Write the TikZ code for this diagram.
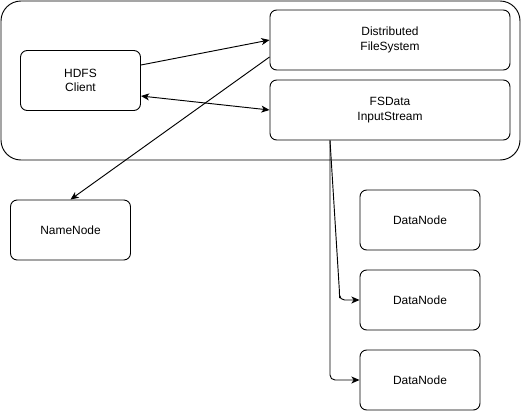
\documentclass[tikz,border=0pt]{standalone}
\usepackage{fontspec}
\setmainfont{Liberation Sans}
\usetikzlibrary{arrows.meta,calc}
\begin{document}
\begin{tikzpicture}[x=0.03cm,y=-0.03cm,
  box/.style={draw,line width=0.8pt,rounded corners=0.2cm,align=center,
    minimum width=3.6cm,minimum height=1.8cm,inner sep=0pt,
    font=\fontsize{10.2}{12.5}\selectfont},
  wide/.style={box,minimum width=7.2cm},
  tip/.tip={Stealth[length=7pt,width=6pt,inset=2pt]},
  arr/.style={draw,line width=0.8pt,-tip}]
\useasboundingbox (0,0) rectangle (521,411);
\node[draw,line width=0.8pt,rounded corners=0.6cm,minimum width=15.57cm,minimum height=4.77cm] (app) at (260.5,80.5) {};
\node[box] (client) at (80.5,80.5) {HDFS\\Client};
\node[wide] (dfs) at (390,40) {Distributed\\FileSystem};
\node[wide] (fsd) at (390,110) {FSData\\InputStream};
\node[box] (nn) at (70.5,230) {NameNode};
\node[box] (dn1) at (420,220) {DataNode};
\node[box] (dn2) at (420,300) {DataNode};
\node[box] (dn3) at (420,380) {DataNode};
\coordinate (split) at ($(fsd.south)+(-60,0)$);

\path[arr] ($(client.east)+(0,-15.5)$) -- (dfs.west);
\path[arr,tip-tip] ($(client.east)+(0,15.5)$) -- (fsd.west);
\path[arr] ($(dfs.west)+(0,17)$) -- (nn.north);
\path[arr,rounded corners=0.15cm] (split) -- ($(dn2.west)+(-20,-7)$) |- (dn2.west);
\path[arr,rounded corners=0.15cm] (split) |- (dn3.west);
\end{tikzpicture}
\end{document}
